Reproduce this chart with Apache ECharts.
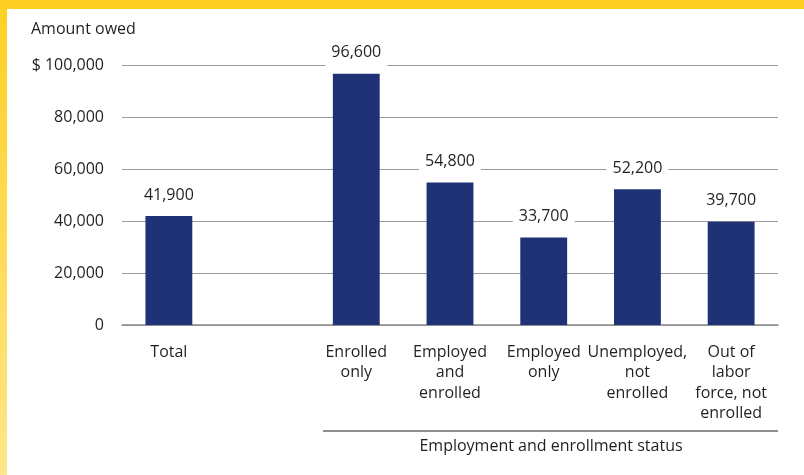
<!DOCTYPE html>
<html>
<head>
<meta charset="utf-8">
<script src="https://cdn.jsdelivr.net/npm/echarts@6/dist/echarts.min.js"></script>
<style>
  html, body { margin: 0; padding: 0; background: #fff; }
  #chart { width: 804px; height: 475px; }
</style>
</head>
<body>
<div id="chart"></div>
<script>
// Categories (an empty slot separates the overall total from the breakdown)
const categories = [
  'Total',
  '',
  'Enrolled\nonly',
  'Employed\nand\nenrolled',
  'Employed\nonly',
  'Unemployed,\nnot\nenrolled',
  'Out of\nlabor\nforce, not\nenrolled'
];
// Average amount owed, in dollars
const amounts = [41900, null, 96600, 54800, 33700, 52200, 39700];
// Y axis ticks
const yTicks = [0, 20000, 40000, 60000, 80000, 100000];

const FONT = '"Open Sans", "Noto Sans", sans-serif';
const FS = 16;
const TEXT = '#231f20';

const chart = echarts.init(document.getElementById('chart'), null, { renderer: 'canvas' });

const fmt = v => v.toLocaleString('en-US');

chart.setOption({
  animation: false,
  backgroundColor: '#ffffff',
  textStyle: { fontFamily: FONT },
  grid: { left: 122, right: 26, top: 65, bottom: 150, containLabel: false },
  xAxis: {
    type: 'category',
    data: categories,
    axisTick: { show: false },
    axisLine: { show: true, lineStyle: { color: '#8c8c8c', width: 1.5 } },
    axisLabel: {
      interval: 0,
      margin: 17,
      color: TEXT,
      fontSize: FS,
      lineHeight: 20.5,
      fontFamily: FONT,
      verticalAlign: 'top'
    }
  },
  yAxis: {
    type: 'value',
    min: yTicks[0],
    max: yTicks[yTicks.length - 1],
    interval: yTicks[1] - yTicks[0],
    axisLine: { show: false },
    axisTick: { show: false },
    splitLine: { lineStyle: { color: '#9a9a9a', width: 1 } },
    axisLabel: {
      margin: 18,
      color: TEXT,
      fontSize: FS,
      fontFamily: FONT,
      formatter: v => (v === yTicks[yTicks.length - 1] ? '$ ' : '') + fmt(v)
    }
  },
  series: [{
    type: 'bar',
    data: amounts,
    barWidth: '50%',
    itemStyle: { color: '#1f3276' },
    label: {
      show: true,
      position: 'top',
      distance: 5,
      color: TEXT,
      fontSize: FS,
      fontFamily: FONT,
      backgroundColor: '#ffffff',
      padding: [4, 6, 8, 6],
      formatter: p => fmt(p.value)
    }
  }],
  graphic: [
    // frame: yellow band along the top and left edge
    {
      type: 'rect', left: 0, top: 0, z: 100,
      shape: { width: 7, height: 475 },
      style: {
        fill: new echarts.graphic.LinearGradient(0, 0, 0, 1, [
          { offset: 0, color: '#fdd023' },
          { offset: 1, color: '#fee68a' }
        ])
      }
    },
    {
      type: 'rect', left: 0, top: 0, z: 101,
      shape: { width: 804, height: 9 },
      style: { fill: '#fdd023' }
    },
    // axis title
    {
      type: 'text', left: 31, top: 21,
      style: { text: 'Amount owed', fill: TEXT, font: FS + 'px ' + FONT }
    },
    // group rule and label under the breakdown categories
    {
      type: 'line', z: 50,
      shape: { x1: 323, y1: 431, x2: 778, y2: 431 },
      style: { stroke: '#231f20', lineWidth: 1 }
    },
    {
      type: 'text', z: 50, x: 551, y: 446,
      style: {
        text: 'Employment and enrollment status',
        fill: TEXT, font: FS + 'px ' + FONT,
        textAlign: 'center', textVerticalAlign: 'middle'
      }
    }
  ]
});
</script>
</body>
</html>
